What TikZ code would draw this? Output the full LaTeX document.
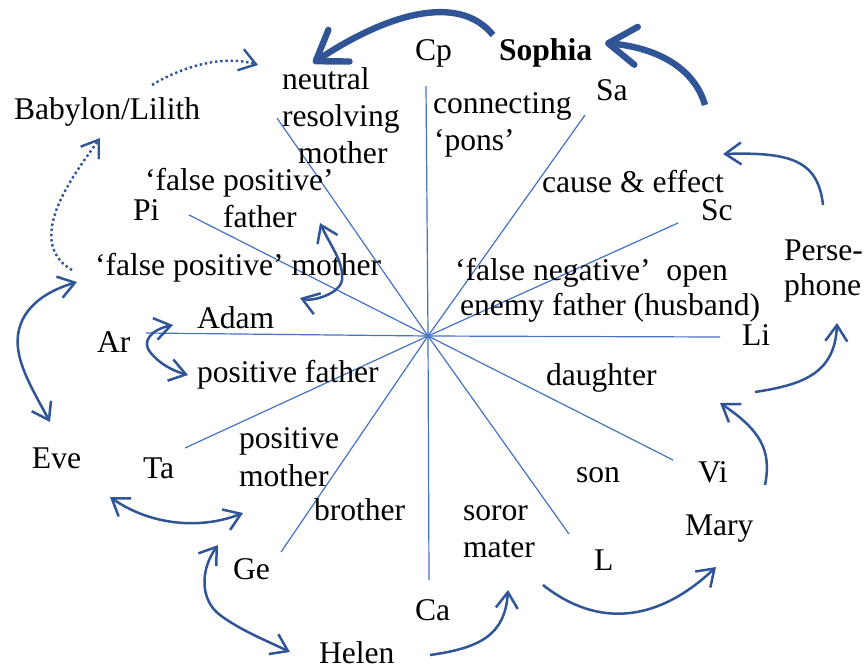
\documentclass[tikz,border=0pt]{standalone}
\usepackage{fontspec}
\setmainfont{Liberation Serif}
\usetikzlibrary{arrows.meta}
\definecolor{spoke}{HTML}{4472C4}
\definecolor{arr}{HTML}{2F5597}
\tikzset{
  lbl/.style={inner sep=0pt, outer sep=0pt, anchor=base west, font=\fontsize{15.8}{18}\selectfont},
  lblb/.style={lbl, font=\fontsize{15.8}{18}\selectfont\bfseries},
  spokeline/.style={draw=spoke, line width=0.6pt},
  thin/.style={draw=arr, line width=1.25pt},
  onehead/.style={thin, -{Straight Barb[length=8pt,width=11pt]}},
  twohead/.style={thin, {Straight Barb[length=8pt,width=11pt]}-{Straight Barb[length=8pt,width=11pt]}},
  dotarrow/.style={draw=arr, line width=1.2pt, dash pattern=on 1.2pt off 1.4pt, -{Straight Barb[length=8pt,width=11pt]}},
  bigarrow/.style={draw=arr, line width=3.2pt, -{Straight Barb[length=14pt,width=19pt,round]}}
}
\begin{document}
\begin{tikzpicture}[x=0.5pt,y=-0.5pt]
\useasboundingbox (0,0) rectangle (865,669);

% spokes
\coordinate (O) at (428,336);
\coordinate (sN) at (426,86);   \coordinate (sS) at (429,580);
\coordinate (sSa) at (585,115); \coordinate (sGe) at (281,552);
\coordinate (sSc) at (678,223); \coordinate (sTa) at (185,448);
\coordinate (sLi) at (720,337); \coordinate (sAr) at (146,333);
\coordinate (sVi) at (673,460); \coordinate (sPi) at (189,215);
\coordinate (sL) at (569,534);  \coordinate (sNe) at (277,118);
\draw[spokeline] (sN) -- (O) -- (sS);
\draw[spokeline] (sSa) -- (O) -- (sGe);
\draw[spokeline] (sSc) -- (O) -- (sTa);
\draw[spokeline] (sLi) -- (O) -- (sAr);
\draw[spokeline] (sVi) -- (O) -- (sPi);
\draw[spokeline] (sL) -- (O) -- (sNe);

% labels
\node[lblb] (sophia) at (499,60) {Sophia};
\node[lbl] (cp) at (415,60) {Cp};
\node[lbl] (nrm1) at (282,89) {neutral};
\node[lbl] (nrm2) at (282,126) {resolving};
\node[lbl] (nrm3) at (298,163) {mother};
\node[lbl] (con1) at (433,113) {connecting};
\node[lbl] (con2) at (434,150) {‘pons’};
\node[lbl] (sa) at (596,100) {Sa};
\node[lbl] (ce) at (542,192) {cause \& effect};
\node[lbl] (sc) at (701,220) {Sc};
\node[lbl] (fn1) at (455,280) {‘false negative’~ open};
\node[lbl] (fn2) at (460,315) {enemy father (husband)};
\node[lbl] (per1) at (784,260) {Perse-};
\node[lbl] (per2) at (784,295) {phone};
\node[lbl] (li) at (742,345) {Li};
\node[lbl] (dau) at (546,385) {daughter};
\node[lbl] (son) at (576,482) {son};
\node[lbl] (vi) at (698,482) {Vi};
\node[lbl] (mary) at (685,535) {Mary};
\node[lbl] (sor1) at (463,520) {soror};
\node[lbl] (sor2) at (463,557) {mater};
\node[lbl] (l) at (594,570) {L};
\node[lbl] (ca) at (415,620) {Ca};
\node[lbl] (helen) at (319,663) {Helen};
\node[lbl] (ge) at (233,579) {Ge};
\node[lbl] (bro) at (314,520) {brother};
\node[lbl] (pm1) at (239,448) {positive};
\node[lbl] (pm2) at (239,486) {mother};
\node[lbl] (ta) at (143,478) {Ta};
\node[lbl] (eve) at (32,468) {Eve};
\node[lbl] (pf) at (197,382) {positive father};
\node[lbl] (ar) at (97,352) {Ar};
\node[lbl] (adam) at (197,328) {Adam};
\node[lbl] (fpm) at (95,275) {‘false positive’ mother};
\node[lbl] (pi) at (133,220) {Pi};
\node[lbl] (fpf1) at (145,190) {‘false positive’};
\node[lbl] (fpf2) at (223,227) {father};
\node[lbl] (bab) at (14,119) {Babylon/Lilith};

% arrow end points
\coordinate (a1s) at (493,35);  \coordinate (a1e) at (313,63);
\coordinate (a2s) at (705,105); \coordinate (a2e) at (605,43);
\coordinate (a3s) at (823,205); \coordinate (a3e) at (723,154);
\coordinate (a4s) at (72,270);  \coordinate (a4e) at (100,138);
\coordinate (a5s) at (152,85);  \coordinate (a5e) at (258,65);
\coordinate (a6s) at (50,422);  \coordinate (a6e) at (77,282);
\coordinate (a7s) at (173,325); \coordinate (a7e) at (188,375);
\coordinate (a8s) at (300,298); \coordinate (a8e) at (320,223);
\coordinate (a9s) at (110,497); \coordinate (a9e) at (243,513);
\coordinate (a10s) at (218,545); \coordinate (a10e) at (290,652);
\coordinate (a11s) at (430,655); \coordinate (a11e) at (508,590);
\coordinate (a12s) at (543,585); \coordinate (a12e) at (716,567);
\coordinate (a13s) at (765,485); \coordinate (a13e) at (720,403);
\coordinate (a14s) at (755,392); \coordinate (a14e) at (837,323);

% thick arrows
\draw[bigarrow] (a1s) .. controls (458,-8) and (385,15) .. (a1e);
\draw[bigarrow] (a2s) .. controls (695,70) and (660,48) .. (a2e);

% dotted arrows
\draw[dotarrow] (a4s) .. controls (20,240) and (80,167) .. (a4e);
\draw[dotarrow] (a5s) .. controls (185,65) and (225,55) .. (a5e);

% thin arrows
\draw[onehead] (a3s) .. controls (818,160) and (790,152) .. (a3e);
\draw[twohead] (a6s) .. controls (30,385) and (15,360) .. (18,335) .. controls (22,305) and (50,290) .. (a6e);
\draw[twohead] (a7s) .. controls (150,330) and (142,342) .. (150,352) .. controls (158,362) and (170,370) .. (a7e);
\draw[twohead] (a8s) .. controls (312,302) and (340,294) .. (342,280) .. controls (344,262) and (330,245) .. (a8e);
\draw[twohead] (a9s) .. controls (150,525) and (200,530) .. (a9e);
\draw[twohead] (a10s) .. controls (200,570) and (200,600) .. (220,615) .. controls (240,630) and (265,640) .. (a10e);
\draw[onehead] (a11s) .. controls (480,648) and (505,635) .. (a11e);
\draw[onehead] (a12s) .. controls (600,630) and (660,620) .. (a12e);
\draw[onehead] (a13s) .. controls (772,450) and (760,430) .. (a13e);
\draw[onehead] (a14s) .. controls (800,385) and (835,375) .. (a14e);
\end{tikzpicture}
\end{document}
